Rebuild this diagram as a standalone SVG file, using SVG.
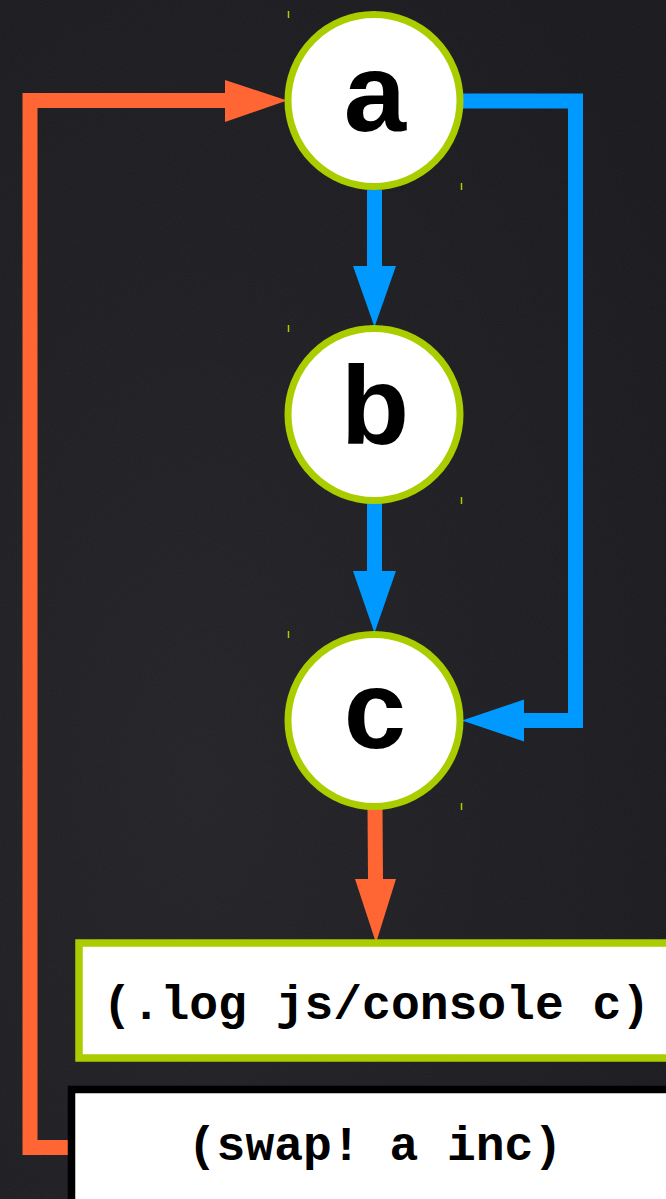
<svg xmlns="http://www.w3.org/2000/svg" width="666" height="1199" viewBox="0 0 666 1199">
  <style>
    .node-circle { fill: #ffffff; stroke: #aacd00; stroke-width: 7; }
    .node-label { font-family: "Liberation Sans", Arial, sans-serif; font-weight: bold; font-size: 112px; fill: #000000; text-anchor: middle; }
    .code-box { fill: #ffffff; stroke-width: 7.5; }
    .code-label { font-family: "Liberation Mono", "Courier New", monospace; font-weight: bold; font-size: 48px; fill: #000000; text-anchor: middle; }
    .tick { stroke: #aacd00; stroke-width: 1.5; }
    .wire { fill: none; stroke-width: 15; stroke-linejoin: miter; }
    .blue { stroke: #0099ff; }
    .orange { stroke: #ff6633; }
    .head-blue { fill: #0099ff; }
    .head-orange { fill: #ff6633; }
  </style>
  <defs>
    <radialGradient id="bgShade" cx="0.3" cy="0.65" r="0.85">
      <stop offset="0" stop-color="#222227"/>
      <stop offset="1" stop-color="#18181d"/>
    </radialGradient>
    <filter id="grain" x="0" y="0" width="100%" height="100%">
      <feTurbulence type="fractalNoise" baseFrequency="0.9" numOctaves="2" seed="3" result="n"/>
      <feColorMatrix type="matrix" values="0 0 0 0 0.5  0 0 0 0 0.5  0 0 0 0 0.55  0 0 0 0.06 0"/>
    </filter>
  </defs>

  <!-- background -->
  <rect x="0" y="0" width="666" height="1199" fill="url(#bgShade)"/>
  <rect x="0" y="0" width="666" height="1199" filter="url(#grain)"/>

  <!-- connectors -->
  <g id="connectors">
    <!-- a -> b -->
    <line class="wire blue" x1="374.5" y1="190" x2="374.5" y2="267"/>
    <polygon class="head-blue" points="353,266 396,266 374.5,327"/>
    <!-- b -> c -->
    <line class="wire blue" x1="374.5" y1="503" x2="374.5" y2="572"/>
    <polygon class="head-blue" points="353,571 396,571 374.5,633"/>
    <!-- a -> c (right side loop) -->
    <polyline class="wire blue" points="462,101 575.5,101 575.5,720.5 523,720.5"/>
    <polygon class="head-blue" points="524,699.5 524,741.5 462,720.5"/>
    <!-- c -> log -->
    <line class="wire orange" x1="375" y1="808" x2="375.5" y2="880"/>
    <polygon class="head-orange" points="355,879 396,879 376,943"/>
    <!-- swap -> a (left side loop) -->
    <polyline class="wire orange" points="69,1147.5 30,1147.5 30,100.5 226,100.5"/>
    <polygon class="head-orange" points="225,80 225,122 287,100.5"/>
  </g>

  <!-- node a -->
  <g id="node-a">
    <circle class="node-circle" cx="374" cy="100.5" r="86"/>
    <line class="tick" x1="288.5" y1="11" x2="288.5" y2="18"/>
    <line class="tick" x1="461.5" y1="183" x2="461.5" y2="190"/>
    <text class="node-label" x="375" y="131">a</text>
  </g>

  <!-- node b -->
  <g id="node-b">
    <circle class="node-circle" cx="374" cy="414.5" r="86"/>
    <line class="tick" x1="288.5" y1="325" x2="288.5" y2="332"/>
    <line class="tick" x1="461.5" y1="497" x2="461.5" y2="504"/>
    <text class="node-label" x="375" y="444">b</text>
  </g>

  <!-- node c -->
  <g id="node-c">
    <circle class="node-circle" cx="374" cy="720.5" r="86"/>
    <line class="tick" x1="288.5" y1="631" x2="288.5" y2="638"/>
    <line class="tick" x1="461.5" y1="803" x2="461.5" y2="810"/>
    <text class="node-label" x="375" y="748">c</text>
  </g>

  <!-- log step -->
  <g id="node-log">
    <rect class="code-box" x="79" y="943" width="640" height="115" stroke="#aacd00"/>
    <text class="code-label" x="376.5" y="1019">(.log js/console c)</text>
  </g>

  <!-- swap step -->
  <g id="node-swap">
    <rect class="code-box" x="71.5" y="1089.5" width="640" height="160" stroke="#000000" stroke-width="7"/>
    <text class="code-label" x="375" y="1160">(swap! a inc)</text>
  </g>
</svg>
